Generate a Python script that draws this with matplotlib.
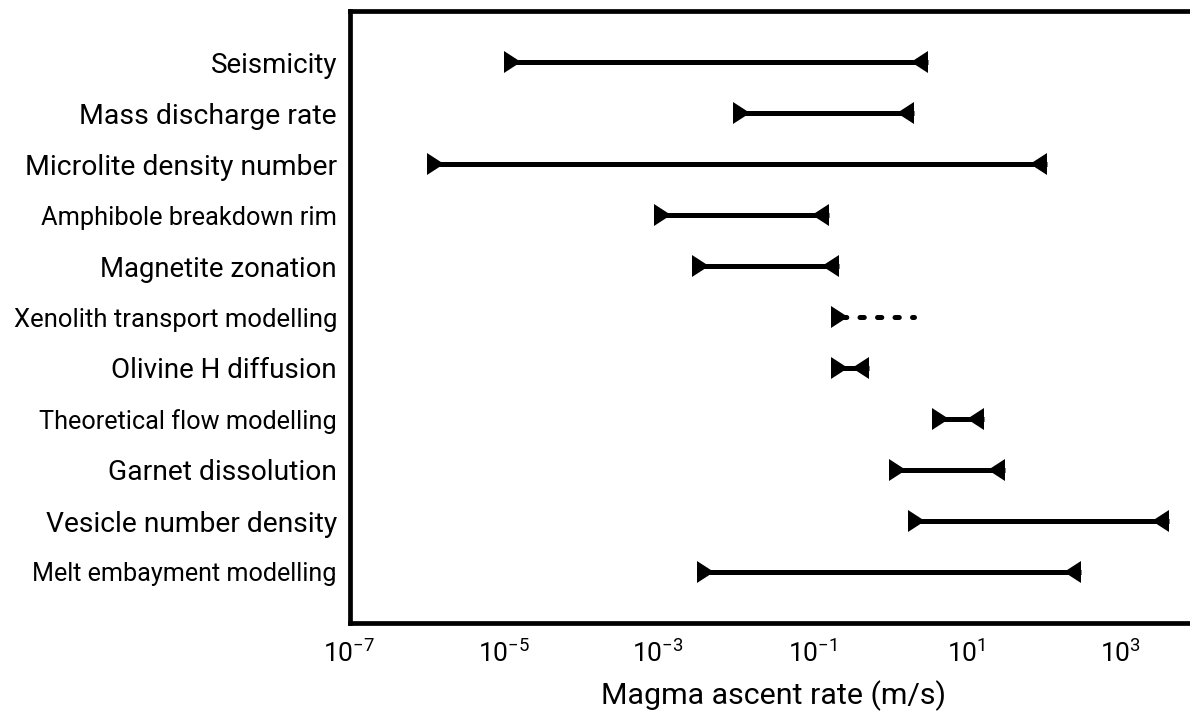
import matplotlib
matplotlib.use("Agg")
import matplotlib.pyplot as plt
from matplotlib.ticker import FixedLocator, LogFormatterMathtext, NullLocator

plt.rcParams['font.family'] = ['Roboto', 'DejaVu Sans']

# ---- data ----
methods = ["Seismicity", "Mass discharge rate", "Microlite density number",
           "Amphibole breakdown rim", "Magnetite zonation",
           "Xenolith transport modelling", "Olivine H diffusion",
           "Theoretical flow modelling", "Garnet dissolution",
           "Vesicle number density", "Melt embayment modelling"]
rate_min = [1.0e-5, 9.5e-3, 1.0e-6, 9.0e-4, 2.8e-3, 0.176, 0.176, 3.6, 1.0, 1.75, 3.2e-3]
rate_max = [3.2, 2.1, 110.0, 0.165, 0.22, 2.1, 0.55, 17.0, 32.0, 4300.0, 310.0]
has_max_marker = [True, True, True, True, True, False, True, True, True, True, True]
dashed = [False, False, False, False, False, True, False, False, False, False, False]
xtick_values = [1e-7, 1e-5, 1e-3, 1e-1, 1e1, 1e3]
x_label = "Magma ascent rate (m/s)"

# target rendered widths of the labels (layout, px)
label_px_widths = [127, 257, 313, 297, 236, 323, 226, 299, 229, 292, 305]
xlabel_px_width = 345

W, H = 1190, 713
fig = plt.figure(figsize=(W / 100, H / 100), dpi=100)
left_px, right_px = 349.5, 349.5 + 11 * 77.1
top_px, bot_px = 11, 623
ax = fig.add_axes([left_px / W, (H - bot_px) / H, (right_px - left_px) / W, (bot_px - top_px) / H])

lw = 3.6
ms = 16.5
for i, (lo, hi) in enumerate(zip(rate_min, rate_max)):
    if dashed[i]:
        ax.plot([lo, hi], [i, i], color='black', lw=lw, ls=(1.3, (0.86, 2.64)),
                dash_capstyle='round', zorder=2)
    else:
        ax.plot([lo, hi], [i, i], color='black', lw=lw, solid_capstyle='butt', zorder=2)
    ax.plot([lo], [i], marker=9, color='black', ms=ms, mew=0, ls='none', zorder=3)
    if has_max_marker[i]:
        ax.plot([hi], [i], marker=8, color='black', ms=ms, mew=0, ls='none', zorder=3)

ax.set_xscale('log')
ax.set_xlim(1e-7, 1e4)
ax.set_ylim(len(methods), -1)
ax.xaxis.set_major_locator(FixedLocator(xtick_values))
ax.xaxis.set_major_formatter(LogFormatterMathtext())
ax.xaxis.set_minor_locator(NullLocator())
ax.set_yticks(range(len(methods)))
ax.set_yticklabels(methods)
ax.tick_params(axis='both', length=0)
ax.tick_params(axis='x', labelsize=19, pad=12)
ax.tick_params(axis='y', labelsize=16, pad=9)
ax.set_xlabel(x_label, fontsize=20, labelpad=10)
for s in ax.spines.values():
    s.set_linewidth(3.4)

fig.canvas.draw()
r = fig.canvas.get_renderer()
for lab, w in zip(ax.get_yticklabels(), label_px_widths):
    bb = lab.get_window_extent(r)
    lab.set_fontsize(lab.get_fontsize() * w / bb.width)
xl = ax.xaxis.label
bb = xl.get_window_extent(r)
xl.set_fontsize(xl.get_fontsize() * xlabel_px_width / bb.width)

fig.savefig("out.png", dpi=100)
